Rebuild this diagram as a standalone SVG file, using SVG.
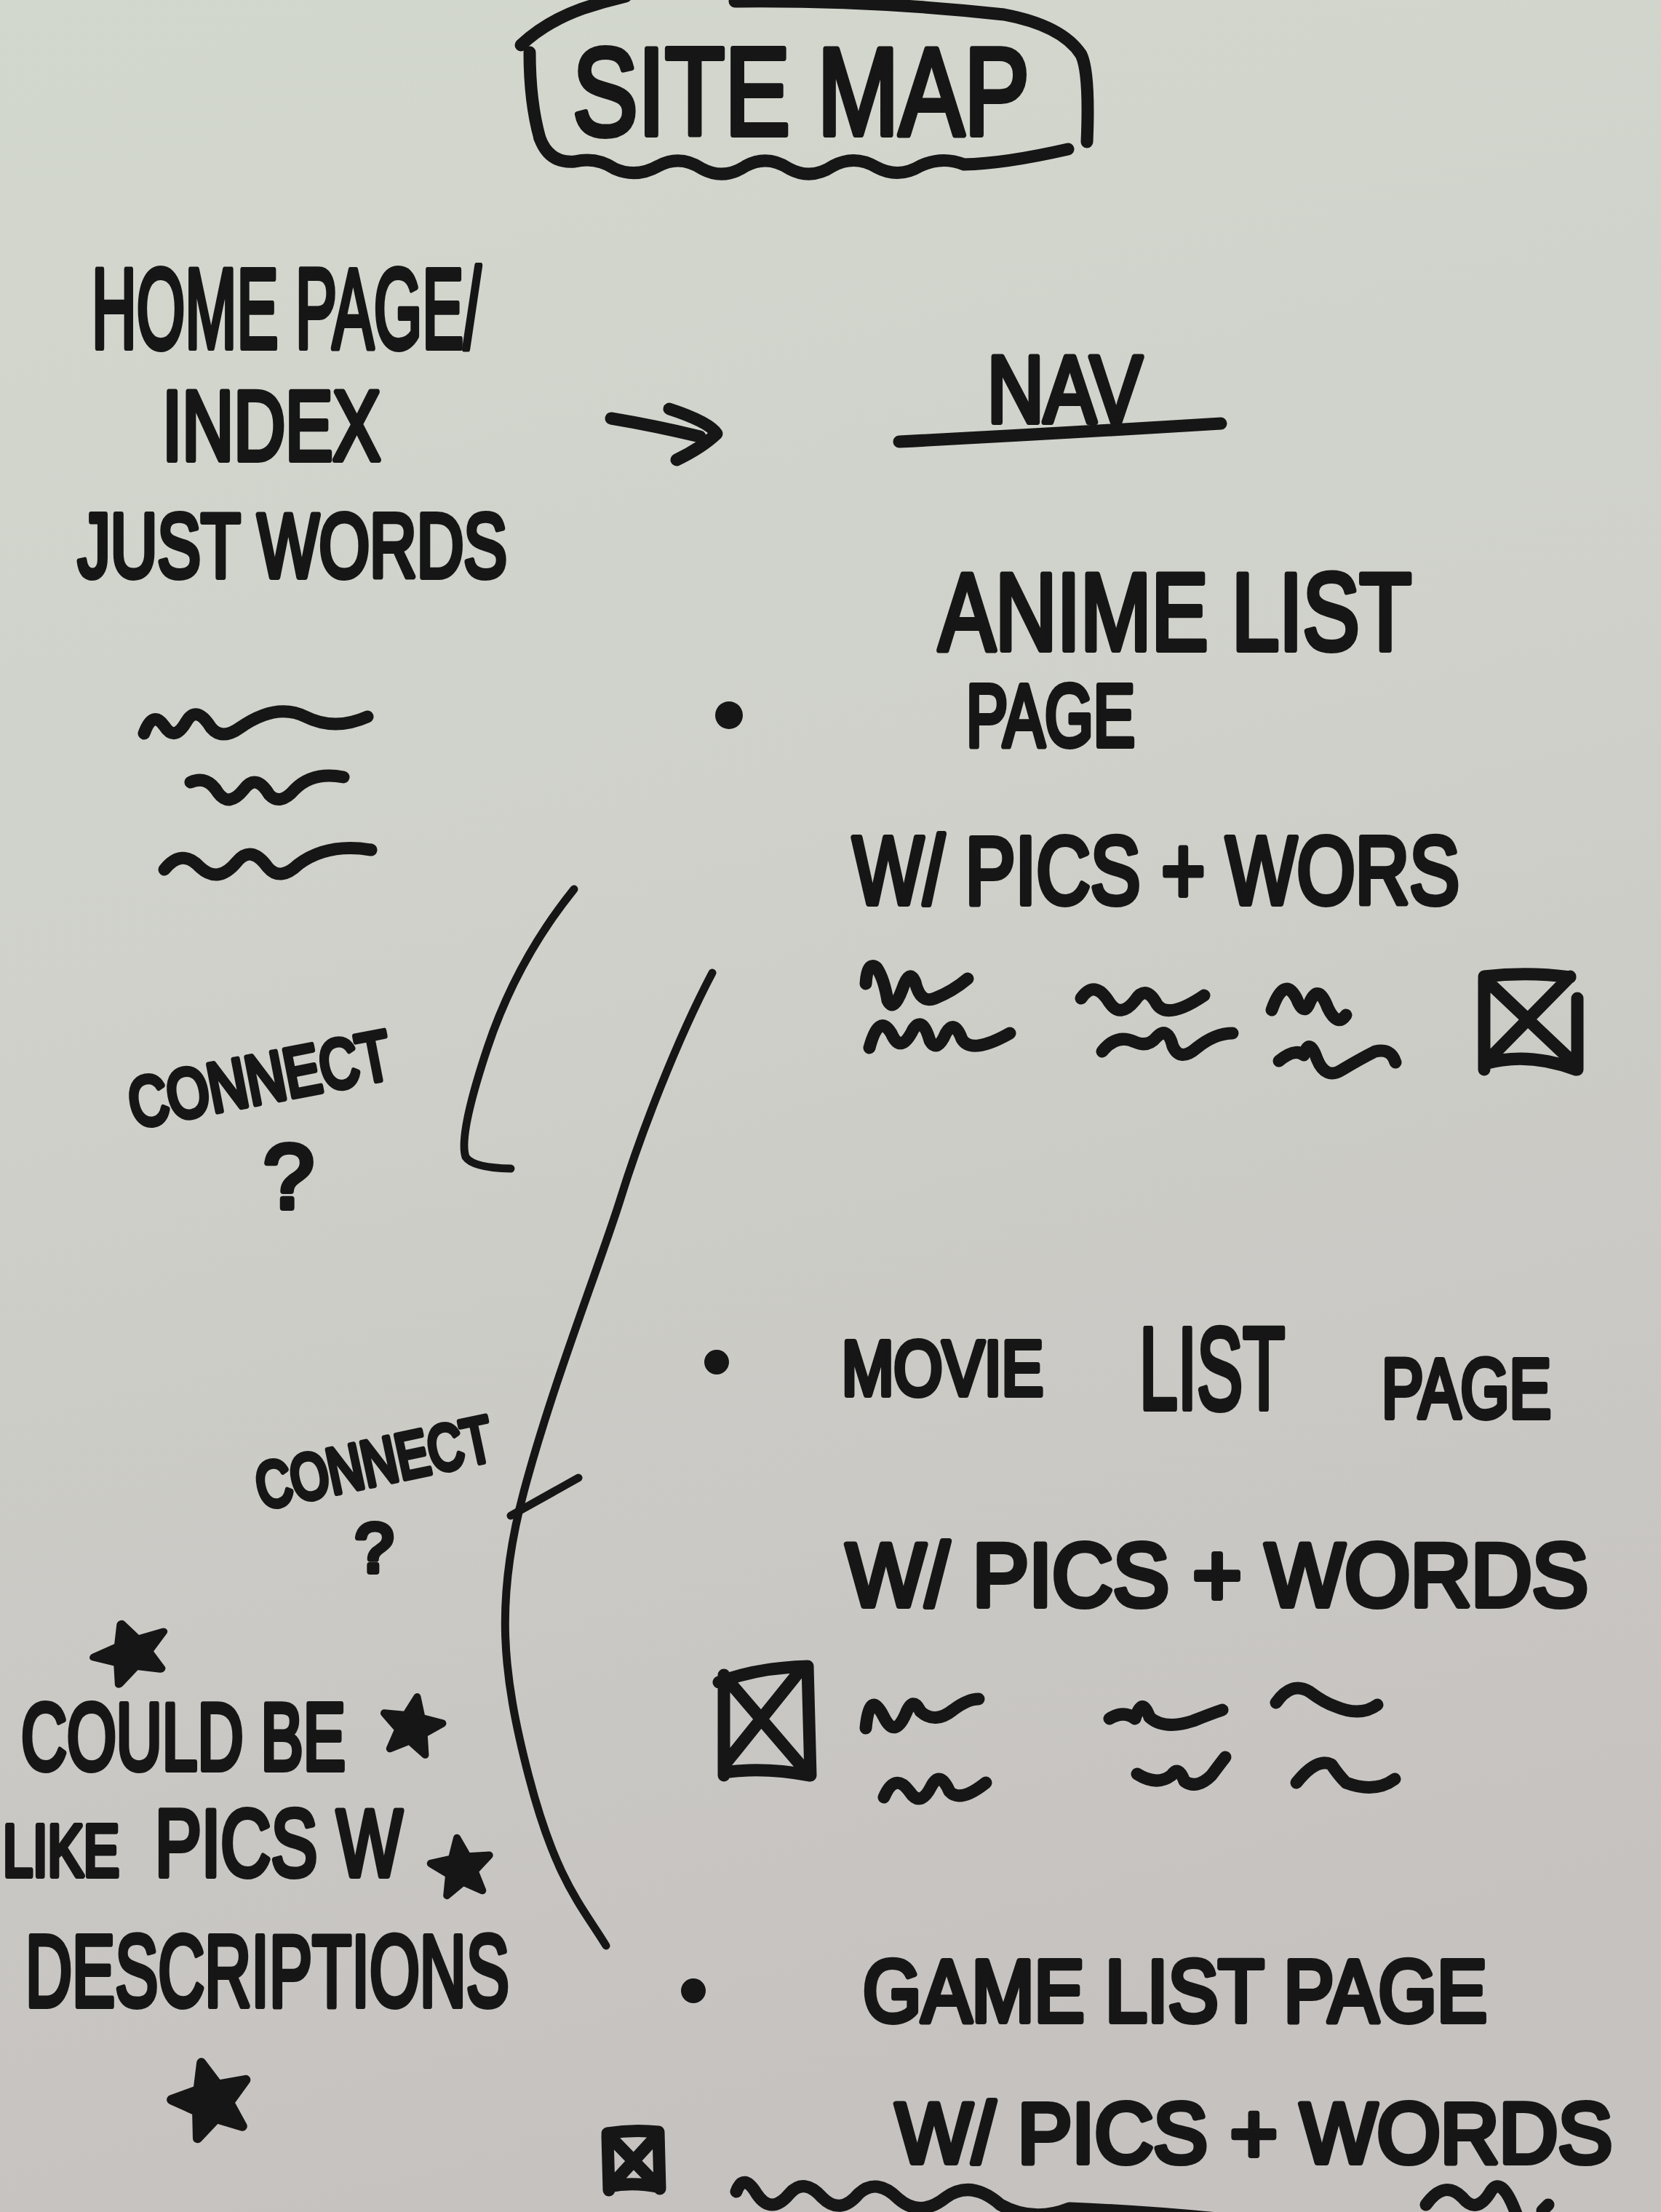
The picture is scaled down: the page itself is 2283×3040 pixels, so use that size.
<svg xmlns="http://www.w3.org/2000/svg" width="2283" height="3040" viewBox="0 0 2283 3040">
<defs>
<linearGradient id="paper" x1="0" y1="0" x2="0.2" y2="1">
<stop offset="0" stop-color="#d3d8ce"/>
<stop offset="0.45" stop-color="#cfd1ca"/>
<stop offset="1" stop-color="#c6c2c0"/>
</linearGradient>
<polygon id="star" points="0,-50 13,-18 48,-15 21,7 29,40 0,22 -29,40 -21,7 -48,-15 -13,-18"/>
<style>
.t{font-family:"Liberation Sans",Arial,sans-serif;fill:#161616;stroke:#161616;stroke-width:8;stroke-linejoin:round;stroke-linecap:round}
.ink{fill:none;stroke:#161616;stroke-linecap:round;stroke-linejoin:round;stroke-width:17}
.thin{stroke-width:11}
.dot{fill:#161616}
.star{fill:#161616;stroke:#161616;stroke-width:12;stroke-linejoin:round}
</style>
</defs>
<rect width="2283" height="3040" fill="url(#paper)"/>

<g id="title">
<path class="ink" d="M716,62 Q750,30 800,12 Q830,2 860,-5"/>
<path class="ink" d="M728,72 Q728,140 742,190"/>
<path class="ink" d="M742,190 Q755,225 790,222 Q820,215 845,232 Q875,245 905,228 Q935,212 965,232 Q995,248 1025,228 Q1055,212 1085,232 Q1115,248 1145,228 Q1175,212 1205,230 Q1235,246 1265,228 Q1295,214 1325,226 Q1380,225 1468,205"/>
<path class="ink" d="M1010,2 Q1200,0 1380,20 Q1460,35 1486,75 Q1498,100 1494,195"/>
<text class="t" x="787" y="185" font-size="170" textLength="628" lengthAdjust="spacingAndGlyphs">SITE MAP</text>
</g>

<g id="home">
<text class="t"><tspan x="126" y="478" font-size="155" textLength="535" lengthAdjust="spacingAndGlyphs">HOME PAGE/</tspan><tspan x="223" y="632" font-size="135" textLength="300" lengthAdjust="spacingAndGlyphs">INDEX</tspan><tspan x="107" y="793" font-size="125" textLength="590" lengthAdjust="spacingAndGlyphs">JUST WORDS</tspan></text>
<path class="ink" d="M198,1008 Q210,975 226,998 Q240,1020 256,992 Q270,968 290,1000 Q305,1018 330,1000 Q380,965 420,985 Q460,1005 505,985"/>
<path class="ink" d="M262,1075 Q285,1065 300,1090 Q315,1110 335,1085 Q352,1062 370,1092 Q385,1108 405,1085 Q430,1060 472,1068"/>
<path class="ink" d="M226,1195 Q250,1165 275,1192 Q300,1215 325,1185 Q345,1160 368,1192 Q385,1212 410,1188 Q450,1158 510,1168"/>
</g>

<g id="nav">
<text class="t" x="1357" y="580" font-size="130" textLength="213" lengthAdjust="spacingAndGlyphs">NAV</text>
<path class="ink" d="M1236,607 Q1450,596 1678,582"/>
</g>

<g id="anime">
<circle class="dot" cx="1002" cy="983" r="19"/>
<text class="t"><tspan x="1290" y="893" font-size="150" textLength="650" lengthAdjust="spacingAndGlyphs">ANIME LIST</tspan><tspan x="1328" y="1025" font-size="120" textLength="232" lengthAdjust="spacingAndGlyphs">PAGE</tspan></text>
<text class="t" x="1172" y="1242" font-size="132" textLength="834" lengthAdjust="spacingAndGlyphs">W/ PICS + WORS</text>
<path class="ink" d="M1190,1352 Q1192,1320 1205,1330 Q1215,1345 1220,1375 Q1228,1392 1240,1360 Q1250,1330 1258,1350 Q1265,1380 1285,1372 Q1310,1362 1330,1345"/>
<path class="ink" d="M1195,1440 Q1208,1392 1225,1420 Q1238,1450 1255,1415 Q1268,1395 1278,1430 Q1288,1448 1300,1420 Q1312,1400 1322,1428 Q1335,1450 1388,1420"/>
<path class="ink" d="M1486,1372 Q1505,1345 1525,1378 Q1540,1400 1560,1375 Q1575,1352 1590,1380 Q1605,1402 1655,1368"/>
<path class="ink" d="M1515,1445 Q1535,1420 1560,1432 Q1578,1440 1590,1425 Q1605,1410 1612,1438 Q1622,1460 1645,1440 Q1670,1420 1694,1420"/>
<path class="ink" d="M1748,1388 Q1765,1340 1782,1372 Q1792,1398 1800,1378 Q1812,1350 1825,1385 Q1838,1412 1850,1395"/>
<path class="ink" d="M1758,1458 Q1780,1440 1792,1450 Q1800,1425 1810,1455 Q1822,1485 1845,1470 Q1870,1455 1890,1445 Q1912,1440 1918,1460"/>
<path class="ink" d="M2040,1345 L2040,1470 M2040,1342 Q2100,1335 2158,1343 M2040,1462 Q2100,1445 2166,1470 M2168,1372 L2168,1470 M2048,1352 L2160,1458 M2158,1342 L2046,1456"/>
</g>

<g id="connectors">
<path class="ink" d="M840,575 Q900,585 962,600"/>
<path class="ink" d="M920,562 Q975,580 985,596 Q965,615 930,632"/>
<path class="ink thin" d="M789,1222 Q710,1320 670,1440 Q630,1560 640,1590 Q650,1605 702,1606"/>
<path class="ink thin" d="M979,1337 C930,1430 880,1560 853,1647 S760,1900 720,2050 S690,2300 727,2442 S800,2620 833,2674"/>
<path class="ink thin" d="M702,2083 L795,2031"/>
</g>

<g id="connect1">
<text class="t" x="184" y="1550" font-size="95" textLength="365" lengthAdjust="spacingAndGlyphs" transform="rotate(-11 184 1550)">CONNECT</text>
<text class="t" x="362" y="1660" font-size="125">?</text>
</g>

<g id="connect2">
<text class="t" x="359" y="2074" font-size="88" textLength="330" lengthAdjust="spacingAndGlyphs" transform="rotate(-12 359 2074)">CONNECT</text>
<text class="t" x="488" y="2160" font-size="95">?</text>
</g>

<g id="movie">
<circle class="dot" cx="985" cy="1872" r="17"/>
<text class="t"><tspan x="1157" y="1917" font-size="105" textLength="277" lengthAdjust="spacingAndGlyphs">MOVIE</tspan><tspan x="1566" y="1936" font-size="160" textLength="200" lengthAdjust="spacingAndGlyphs">LIST</tspan><tspan x="1899" y="1948" font-size="115" textLength="233" lengthAdjust="spacingAndGlyphs">PAGE</tspan></text>
<text class="t" x="1163" y="2207" font-size="122" textLength="1020" lengthAdjust="spacingAndGlyphs">W/ PICS + WORDS</text>
<path class="ink" d="M995,2302 L995,2440 M988,2312 Q1040,2292 1110,2290 M1110,2290 L1114,2440 M995,2436 Q1050,2428 1112,2440 M1008,2318 L1104,2430 M1098,2298 L1000,2420"/>
<path class="ink" d="M1190,2375 Q1195,2320 1215,2360 Q1230,2390 1245,2355 Q1255,2330 1265,2352 Q1285,2370 1310,2350 Q1330,2335 1345,2335"/>
<path class="ink" d="M1215,2470 Q1230,2435 1250,2462 Q1265,2485 1280,2455 Q1292,2432 1305,2462 Q1320,2478 1355,2450"/>
<path class="ink" d="M1525,2362 Q1545,2350 1560,2362 Q1570,2330 1580,2360 Q1600,2378 1640,2365 Q1665,2355 1680,2350"/>
<path class="ink" d="M1563,2438 Q1590,2455 1610,2440 Q1620,2425 1628,2448 Q1645,2460 1665,2440 Q1680,2420 1684,2415"/>
<path class="ink" d="M1754,2340 Q1775,2310 1800,2325 Q1820,2340 1835,2345 Q1870,2360 1893,2343"/>
<path class="ink" d="M1782,2450 Q1810,2415 1830,2425 Q1840,2440 1850,2450 Q1890,2465 1917,2445"/>
</g>

<g id="note">
<use href="#star" class="star" transform="translate(181,2272) rotate(-20) scale(1.05 0.85)"/>
<use href="#star" class="star" transform="translate(566,2374) rotate(10) scale(0.85)"/>
<use href="#star" class="star" transform="translate(634,2568) rotate(-8) scale(0.85)"/>
<use href="#star" class="star" transform="translate(291,2888) rotate(-15) scale(1.1)"/>
<text class="t"><tspan x="29" y="2432" font-size="130" textLength="446" lengthAdjust="spacingAndGlyphs">COULD BE</tspan><tspan x="4" y="2578" font-size="100" textLength="160" lengthAdjust="spacingAndGlyphs">LIKE</tspan><tspan x="213" y="2578" font-size="130" textLength="340" lengthAdjust="spacingAndGlyphs">PICS W</tspan><tspan x="35" y="2757" font-size="140" textLength="665" lengthAdjust="spacingAndGlyphs">DESCRIPTIONS</tspan></text>
</g>

<g id="game">
<circle class="dot" cx="953" cy="2736" r="17"/>
<text class="t" x="1186" y="2778" font-size="120" textLength="858" lengthAdjust="spacingAndGlyphs">GAME LIST PAGE</text>
<text class="t" x="1231" y="2972" font-size="116" textLength="985" lengthAdjust="spacingAndGlyphs">W/ PICS + WORDS</text>
<path class="ink" d="M835,2935 L837,3010 M835,2932 Q870,2926 905,2930 L907,3008 M837,3005 Q870,2998 907,3006 M842,2940 L900,3000 M900,2938 L845,2998"/>
<path class="ink" d="M1012,3012 Q1022,2985 1040,3015 Q1060,3045 1085,3015 Q1105,2992 1130,3020 Q1155,3045 1180,3015 Q1205,2992 1235,3022 Q1265,3048 1300,3020 Q1335,2995 1375,3030 Q1420,3055 1470,3035 Q1600,3040 1760,3058"/>
<path class="ink" d="M1960,3030 Q1985,2995 2010,3020 Q2030,3045 2050,3010 Q2065,2990 2085,3045 M2120,3038 L2128,3030"/>
</g>
</svg>
